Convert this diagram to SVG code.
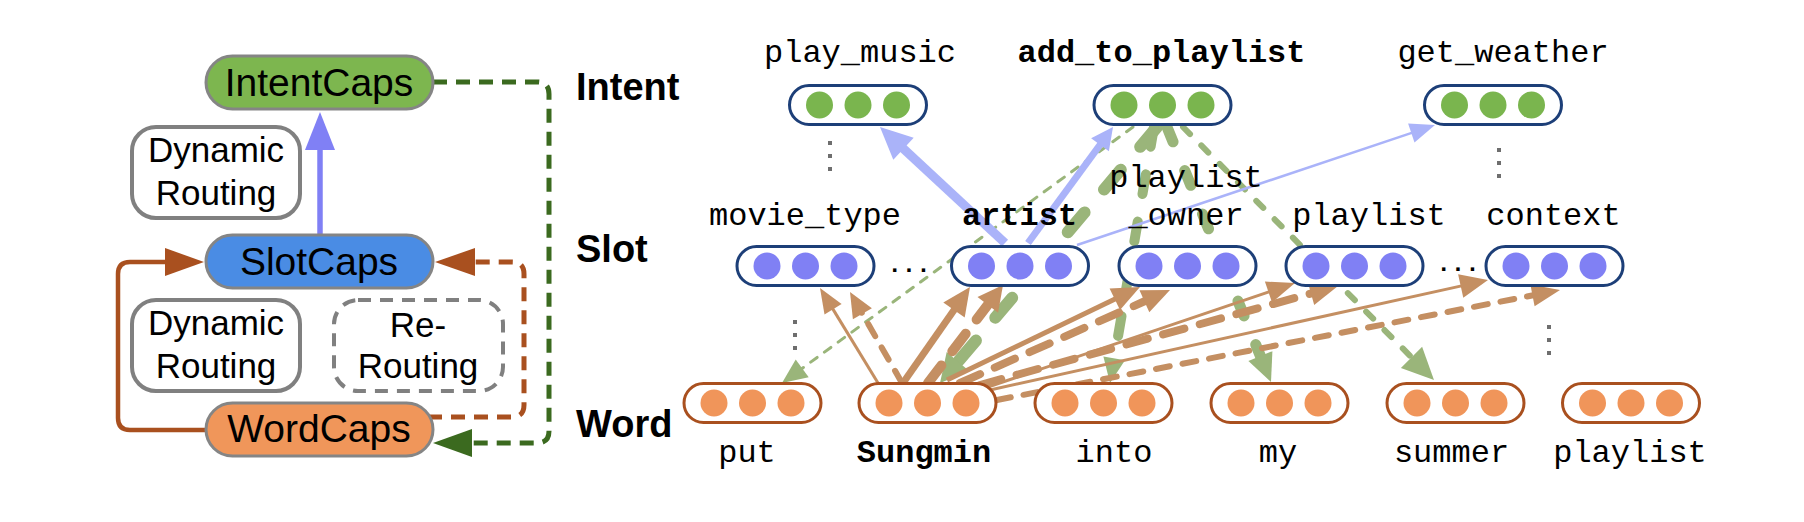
<svg xmlns="http://www.w3.org/2000/svg" width="1804" height="522" viewBox="0 0 1804 522">
<style>
.sans{font-family:"Liberation Sans",Arial,Helvetica,sans-serif;fill:#000}
.cap{stroke:#858585;stroke-width:3}
.capt{font-size:39px;text-anchor:middle}
.rt{fill:#fff;stroke:#808080;stroke-width:4}
.rtd{fill:#fff;stroke:#808080;stroke-width:4;stroke-dasharray:13 9}
.rtt{font-size:35px;text-anchor:middle}
.layer{font-size:38px;font-weight:bold}
.mono{font-family:"Liberation Mono","Courier New",monospace;font-size:32px;text-anchor:middle;fill:#000}
.b{font-weight:bold}
.ipill{fill:#fff;stroke:#1d3f78;stroke-width:3}
.wpill{fill:#fff;stroke:#a9501f;stroke-width:3}
.vdot{fill:#6e6e6e}
.edot{fill:#111}
.ln{fill:none}
.blue{stroke:#aab3f9}
.blueh{fill:#aab3f9}
.grn{stroke:#9ab57a;stroke-linecap:round}
.grnh{fill:#9ab57a}
.brn{stroke:#c48f62}
.brnd{stroke:#c48f62;stroke-linecap:round}
.brnh{fill:#c48f62}
</style>
<defs>
<g id="pillI"><rect class="ipill" x="-68.5" y="-19.5" width="137" height="39" rx="19.5"/><circle cx="-38.5" r="13.5" fill="#7ab54e"/><circle cx="0" r="13.5" fill="#7ab54e"/><circle cx="38.5" r="13.5" fill="#7ab54e"/></g>
<g id="pillS"><rect class="ipill" x="-68.5" y="-19.5" width="137" height="39" rx="19.5"/><circle cx="-38.5" r="13.5" fill="#8080f4"/><circle cx="0" r="13.5" fill="#8080f4"/><circle cx="38.5" r="13.5" fill="#8080f4"/></g>
<g id="pillW"><rect class="wpill" x="-68.5" y="-19.5" width="137" height="39" rx="19.5"/><circle cx="-38.5" r="13.5" fill="#f0955a"/><circle cx="0" r="13.5" fill="#f0955a"/><circle cx="38.5" r="13.5" fill="#f0955a"/></g>
<g id="vdots"><rect class="vdot" x="-2" y="-2" width="4" height="4"/><rect class="vdot" x="-2" y="11" width="4" height="4"/><rect class="vdot" x="-2" y="24" width="4" height="4"/></g>
</defs>
<rect width="1804" height="522" fill="#fff"/>

<!-- Left overview connectors -->
<g id="connectors-left">
<path class="ln" d="M320,235 V147" stroke="#8080f5" stroke-width="5.5"/>
<polygon points="320,112 335,150 305,150" fill="#8080f5"/>
<path class="ln" d="M207,430 H130 Q118,430 118,418 V274 Q118,262 130,262 H168" stroke="#a9501f" stroke-width="4.5"/>
<polygon points="204,262 165,248 165,276" fill="#a9501f"/>
<path class="ln" d="M428,417 H512 Q524,417 524,405 V274 Q524,262 512,262 H473" stroke="#a9501f" stroke-width="5" stroke-dasharray="14 9"/>
<polygon points="435,262 475,248 475,276" fill="#a9501f"/>
<path class="ln" d="M433,82 H537 Q549,82 549,94 V431 Q549,443 537,443 H470" stroke="#3b6a1f" stroke-width="5" stroke-dasharray="14 9"/>
<polygon points="433,443 472,429 472,457" fill="#3b6a1f"/>
</g>

<g id="IntentCaps"><rect class="cap" x="206" y="56" width="227" height="53" rx="26.5" fill="#7db64f"/><text class="sans capt" x="319" y="96">IntentCaps</text></g>
<g id="SlotCaps"><rect class="cap" x="206" y="235" width="227" height="53" rx="26.5" fill="#4a8ce4"/><text class="sans capt" x="319" y="275">SlotCaps</text></g>
<g id="WordCaps"><rect class="cap" x="206" y="403" width="227" height="53" rx="26.5" fill="#f0965a"/><text class="sans capt" x="319" y="442">WordCaps</text></g>
<g id="DynamicRouting1"><rect class="rt" x="132" y="127" width="168" height="91" rx="24"/><text class="sans rtt" x="216" y="162">Dynamic</text><text class="sans rtt" x="216" y="205">Routing</text></g>
<g id="DynamicRouting2"><rect class="rt" x="132" y="300" width="168" height="91" rx="24"/><text class="sans rtt" x="216" y="335">Dynamic</text><text class="sans rtt" x="216" y="378">Routing</text></g>
<g id="ReRouting"><rect class="rtd" x="334" y="300" width="169" height="91" rx="24"/><text class="sans rtt" x="418" y="337">Re-</text><text class="sans rtt" x="418" y="378">Routing</text></g>

<!-- Layer labels -->
<g id="layer-labels">
<text class="sans layer" x="576" y="100">Intent</text>
<text class="sans layer" x="576" y="262">Slot</text>
<text class="sans layer" x="576" y="437">Word</text>
</g>

<!-- Right detailed connectors -->
<g id="connectors">
<!-- green re-routing (intent to word) -->
<path class="ln grn" d="M1133,127 L800.6,369.5" stroke-width="3" stroke-dasharray="8 9"/>
<polygon class="grnh" points="782,383 808.7,377.2 795.7,359.4"/>
<path class="ln grn" d="M1157,127 L956.8,363.1" stroke-width="12" stroke-dasharray="26 30"/>
<polygon class="grnh" points="940,383 969.5,371.3 946.7,351.9"/>
<path class="ln grn" d="M1154,127 L1113.9,360.4" stroke-width="10" stroke-dasharray="20 28"/>
<polygon class="grnh" points="1110,383 1125,360.3 1103.4,356.5"/>
<path class="ln grn" d="M1167,127 L1261.2,358" stroke-width="11" stroke-dasharray="16 31"/>
<polygon class="grnh" points="1271,382 1272.4,351.2 1248.4,361"/>
<path class="ln grn" d="M1183,127 L1412.9,358.7" stroke-width="6" stroke-dasharray="10 16"/>
<polygon class="grnh" points="1434,380 1422.1,346.7 1400.9,367.9"/>
<!-- blue (slot to intent) -->
<path class="ln blue" d="M1005,243 L902,147.4" stroke-width="9"/>
<polygon class="blueh" points="880,127 913.7,137.8 893.3,159.8"/>
<path class="ln blue" d="M1028,243 L1101.2,143.2" stroke-width="7"/>
<polygon class="blueh" points="1113,127 1108.9,151.3 1091.1,138.3"/>
<path class="ln blue" d="M1077,245 L1413.2,132.4" stroke-width="2.5"/>
<polygon class="blueh" points="1435,125 1414.5,142.5 1408.1,123.5"/>
<!-- brown (word to slot) -->
<path class="ln brn" d="M878,383 L832,307.6" stroke-width="3"/>
<polygon class="brnh" points="820,288 841.6,304.1 824.5,314.5"/>
<path class="ln brnd" d="M902,383 L861.4,312" stroke-width="6" stroke-dasharray="14 13"/>
<polygon class="brnh" points="850,292 871.9,308.2 852.9,319.2"/>
<path class="ln brn" d="M903,383 L955.1,308.4" stroke-width="7"/>
<polygon class="brnh" points="970,287 964.7,317.4 943.3,302.6"/>
<path class="ln brnd" d="M928,383 L989,303.3" stroke-width="10" stroke-dasharray="22 18"/>
<polygon class="brnh" points="1003,285 998.1,312.8 977.5,297"/>
<path class="ln brn" d="M947,380 L1116.6,298.3" stroke-width="5"/>
<polygon class="brnh" points="1140,287 1120,310 1109.6,288.4"/>
<path class="ln brnd" d="M960,383 L1146.2,300.5" stroke-width="8" stroke-dasharray="22 16"/>
<polygon class="brnh" points="1170,290 1149.3,312.3 1139.5,290.3"/>
<path class="ln brn" d="M985,388 L1270.4,291.4" stroke-width="3"/>
<polygon class="brnh" points="1295,283 1272,302.4 1264.9,281.6"/>
<path class="ln brnd" d="M980,385 L1312.9,293" stroke-width="8" stroke-dasharray="22 16"/>
<polygon class="brnh" points="1338,286 1314.2,305.1 1307.8,281.9"/>
<path class="ln brn" d="M990,390 L1462.7,285.6" stroke-width="3"/>
<polygon class="brnh" points="1488,280 1463.3,297.7 1458.1,274.3"/>
<path class="ln brnd" d="M997,400 L1534.5,295" stroke-width="6" stroke-dasharray="14 13"/>
<polygon class="brnh" points="1560,290 1534.6,306.2 1530.4,284.6"/>
</g>

<!-- Intent capsules -->
<g id="intent-play_music"><use href="#pillI" x="858" y="105"/><text class="mono" x="860" y="62">play_music</text><use href="#vdots" x="830" y="143"/></g>
<g id="intent-add_to_playlist"><use href="#pillI" x="1162.5" y="105"/><text class="mono b" x="1161.5" y="62">add_to_playlist</text></g>
<g id="intent-get_weather"><use href="#pillI" x="1493" y="105"/><text class="mono" x="1503" y="62">get_weather</text><use href="#vdots" x="1499" y="150"/></g>

<!-- Slot capsules -->
<g id="slot-movie_type"><use href="#pillS" x="805.5" y="266"/><text class="mono" x="805" y="225">movie_type</text><use href="#vdots" x="795" y="322"/></g>
<g id="slot-artist"><use href="#pillS" x="1020" y="266"/><text class="mono b" x="1019.5" y="225">artist</text></g>
<g id="slot-playlist_owner"><use href="#pillS" x="1187.5" y="266"/><text class="mono" x="1186" y="187">playlist</text><text class="mono" x="1186" y="225">_owner</text></g>
<g id="slot-playlist"><use href="#pillS" x="1354.5" y="266"/><text class="mono" x="1369" y="225">playlist</text></g>
<g id="slot-context"><use href="#pillS" x="1554.5" y="266"/><text class="mono" x="1553.5" y="225">context</text><use href="#vdots" x="1549" y="327"/></g>
<g id="slot-ellipses"><text class="mono b" x="909" y="272" style="font-size:24px">...</text><text class="mono b" x="1458" y="271" style="font-size:24px">...</text></g>

<!-- Word capsules -->
<g id="word-put"><use href="#pillW" x="752.5" y="403"/><text class="mono" x="747" y="462">put</text></g>
<g id="word-Sungmin"><use href="#pillW" x="927.5" y="403"/><text class="mono b" x="924" y="462">Sungmin</text></g>
<g id="word-into"><use href="#pillW" x="1103.5" y="403"/><text class="mono" x="1114" y="462">into</text></g>
<g id="word-my"><use href="#pillW" x="1279.5" y="403"/><text class="mono" x="1278" y="462">my</text></g>
<g id="word-summer"><use href="#pillW" x="1455.5" y="403"/><text class="mono" x="1451.5" y="462">summer</text></g>
<g id="word-playlist"><use href="#pillW" x="1631" y="403"/><text class="mono" x="1630" y="462">playlist</text></g>
</svg>
